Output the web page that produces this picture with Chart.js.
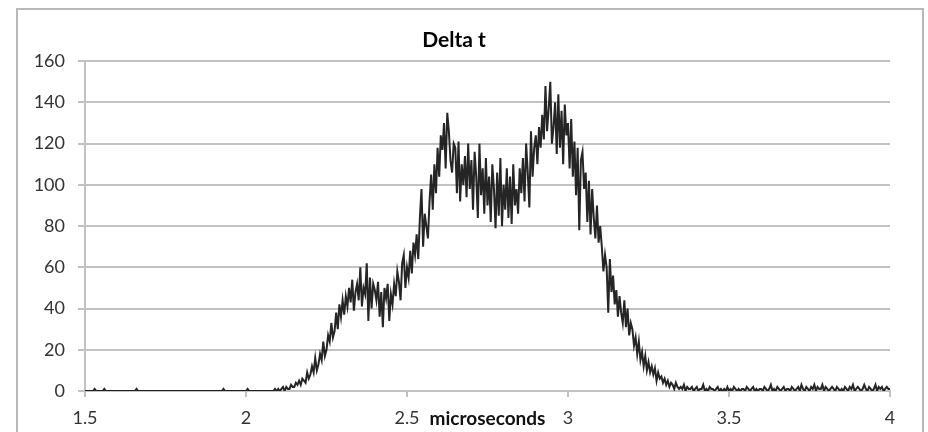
<!DOCTYPE html>
<html>
<head>
<meta charset="utf-8">
<script src="https://cdn.jsdelivr.net/npm/chart.js@4/dist/chart.umd.min.js"></script>
<style>
  html, body { margin: 0; padding: 0; background: #fff; overflow: hidden; }
  #frame {
    position: absolute; left: 16px; top: 8px;
    width: 904px; height: 430px;
    border: 2px solid #b8b8b8; background: #fff;
  }
  canvas { display: block; }
</style>
</head>
<body>
<div id="frame"><canvas id="chart" width="904" height="430"></canvas></div>
<script>
// histogram of delta t, one count per 0.005 us bin starting at 1.5 us
const binStart = 1.5;
const binWidth = 0.005;
const counts = [
  0,0,0,0,0,0,1,0,0,0,        // 1.50
  0,0,1,0,0,0,0,0,0,0,        // 1.55
  0,0,0,0,0,0,0,0,0,0,        // 1.60
  0,0,1,0,0,0,0,0,0,0,        // 1.65
  0,0,0,0,0,0,0,0,0,0,        // 1.70
  0,0,0,0,0,0,0,0,0,0,        // 1.75
  0,0,0,0,0,0,0,0,0,0,        // 1.80
  0,0,0,0,0,0,0,0,0,0,        // 1.85
  0,0,0,0,0,0,1,0,0,0,        // 1.90
  0,0,0,0,0,0,0,0,0,0,        // 1.95
  0,1,0,0,0,0,0,0,0,0,        // 2.00
  0,0,0,0,0,0,0,0,1,0,        // 2.05
  1,0,1,2,0,2,1,1,3,2,        // 2.10
  2,4,3,5,3,6,5,4,9,6,        // 2.15
  8,12,9,16,10,13,18,15,24,17,       // 2.20
  20,27,24,33,26,29,38,30,42,36,     // 2.25
  44,37,46,41,50,43,54,39,48,52,     // 2.30
  44,60,41,50,47,62,34,55,40,52,     // 2.35
  49,44,53,36,48,31,50,45,52,34,     // 2.40
  47,42,52,46,58,53,44,62,66,50,     // 2.45
  60,55,68,57,72,66,76,64,84,98,     // 2.50
  70,86,80,74,92,105,88,110,96,118,  // 2.55
  104,124,117,130,108,135,126,112,106,120, // 2.60
  118,96,121,92,110,100,114,94,120,98,     // 2.65
  112,88,116,104,84,120,95,108,86,113,     // 2.70
  90,104,82,110,98,79,106,85,113,80,       // 2.75
  100,88,108,84,104,81,110,90,98,86,       // 2.80
  108,96,113,92,120,106,89,126,104,118,    // 2.85
  124,110,128,118,134,122,148,126,137,150, // 2.90
  120,128,140,115,144,118,136,110,139,124, // 2.95
  130,108,132,104,121,95,118,78,112,116,   // 3.00
  98,106,82,102,76,98,84,74,90,72,         // 3.05
  80,70,58,66,60,38,64,48,56,42,           // 3.10
  49,36,46,38,33,44,31,40,27,33,           // 3.15
  30,22,26,18,24,15,19,12,17,10,           // 3.20
  14,9,12,8,11,5,9,6,7,4,     // 3.25
  6,3,5,2,4,3,1,4,2,1,        // 3.30
  2,1,3,0,2,1,1,2,0,1,        // 3.35
  2,0,1,1,3,0,1,0,2,1,        // 3.40
  1,0,1,2,0,1,0,1,0,2,        // 3.45
  0,1,0,2,1,0,1,0,1,1,        // 3.50
  0,2,1,0,1,2,0,1,0,1,        // 3.55
  1,0,2,1,0,1,3,0,1,0,        // 3.60
  2,1,0,1,2,0,1,1,0,2,        // 3.65
  1,0,1,2,0,3,1,0,2,1,        // 3.70
  0,2,1,3,0,2,1,1,3,0,        // 3.75
  2,1,0,1,2,1,0,2,1,0,        // 3.80
  1,0,2,1,0,2,1,3,0,1,        // 3.85
  2,1,0,1,3,1,0,2,1,0,        // 3.90
  1,3,0,2,1,2,0,1,2,1,        // 3.95
  1                           // 4.00
];

const xTicks = [1.5, 2, 2.5, 3, 3.5, 4];
const yTicks = [0, 20, 40, 60, 80, 100, 120, 140, 160];

const chartTitle = 'Delta t';
const xTitle = 'microseconds';

const gridGray = '#c2c2c2';
const fontFamily = "Lato, 'Open Sans', sans-serif";

const points = counts.map((c, i) => ({ x: binStart + i * binWidth, y: c }));

new Chart(document.getElementById('chart'), {
  type: 'line',
  data: {
    datasets: [{
      data: points,
      borderColor: 'rgba(18,18,18,0.92)',
      borderWidth: 2,
      pointRadius: 0,
      tension: 0,
      fill: false
    }]
  },
  options: {
    responsive: false,
    animation: false,
    devicePixelRatio: 1,
    layout: { padding: { left: 0, right: 32, top: 0, bottom: 0 } },
    plugins: {
      legend: { display: false },
      tooltip: { enabled: false },
      title: {
        display: true,
        text: chartTitle,
        color: '#000',
        font: { family: fontFamily, size: 21, weight: 'bold' },
        padding: { top: 18, bottom: 8 }
      }
    },
    scales: {
      x: {
        type: 'linear',
        min: 1.5,
        max: 4,
        afterBuildTicks: (scale) => { scale.ticks = xTicks.map(v => ({ value: v })); },
        afterFit: (scale) => { scale.height = 49; },
        grid: { drawOnChartArea: false, drawTicks: true, tickLength: 6, color: gridGray, lineWidth: 2 },
        border: { display: true, color: gridGray, width: 2 },
        ticks: {
          color: '#333',
          padding: 10,
          maxRotation: 0,
          font: { family: fontFamily, size: 18 },
          callback: (v) => String(v)
        },
        title: {
          display: true,
          text: xTitle,
          color: '#111',
          font: { family: fontFamily, size: 19, weight: 'bold' },
          padding: { top: 0, bottom: 10 }
        }
      },
      y: {
        min: 0,
        max: 160,
        afterBuildTicks: (scale) => { scale.ticks = yTicks.map(v => ({ value: v })); },
        afterFit: (scale) => { scale.width = 67; },
        grid: { color: gridGray, lineWidth: 2, drawTicks: true, tickLength: 7 },
        border: { display: true, color: gridGray, width: 2 },
        ticks: {
          color: '#333',
          padding: 13,
          font: { family: fontFamily, size: 18 }
        }
      }
    }
  }
});
</script>
</body>
</html>
